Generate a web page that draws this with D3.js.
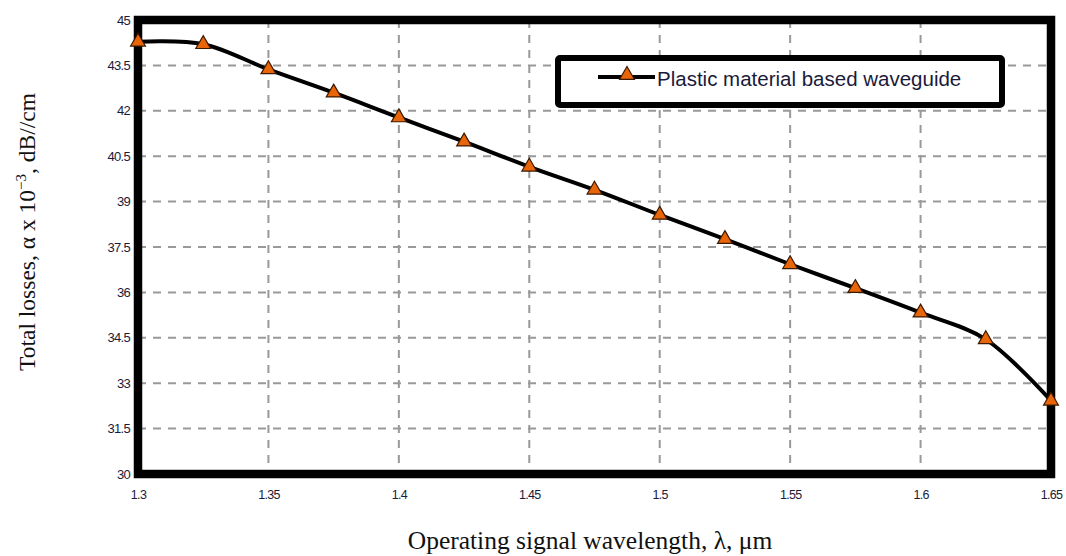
<!DOCTYPE html>
<html><head><meta charset="utf-8">
<script src="https://cdn.jsdelivr.net/npm/d3@7"></script>
<style>body{margin:0;background:#fff;}svg{display:block;}</style>
</head><body>
<svg id="chart" width="1066" height="556"></svg>
<script>
const wavelengths = [1.3,1.325,1.35,1.375,1.4,1.425,1.45,1.475,1.5,1.525,1.55,1.575,1.6,1.625,1.65];
const losses = [44.28,44.2,43.37,42.6,41.78,40.98,40.15,39.39,38.56,37.76,36.93,36.14,35.33,34.45,32.42];
const xTicks = [1.3,1.35,1.4,1.45,1.5,1.55,1.6,1.65];
const yTicks = [30,31.5,33,34.5,36,37.5,39,40.5,42,43.5,45];
const seriesName = "Plastic material based waveguide";

const svg = d3.select("#chart");
const L = 138, R = 1051, T = 20, B = 474;
const x = d3.scaleLinear().domain([1.3,1.65]).range([L,R]);
const y = d3.scaleLinear().domain([30,45]).range([B,T]);

// grid
svg.append("g").selectAll("line").data(xTicks.slice(1,-1)).join("line")
  .attr("x1",d=>x(d)).attr("x2",d=>x(d)).attr("y1",T).attr("y2",B)
  .attr("stroke","#999").attr("stroke-width",2).attr("stroke-dasharray","8,7");
svg.append("g").selectAll("line").data(yTicks.slice(1,-1)).join("line")
  .attr("x1",L).attr("x2",R).attr("y1",d=>y(d)).attr("y2",d=>y(d))
  .attr("stroke","#999").attr("stroke-width",2).attr("stroke-dasharray","8,7");

// axes (labels only)
const yAxis = svg.append("g").attr("transform",`translate(${L-4},0)`)
  .call(d3.axisLeft(y).tickValues(yTicks).tickSize(0).tickPadding(4).tickFormat(d=>String(d)));
yAxis.select(".domain").remove();
yAxis.selectAll("text").attr("font-family","Liberation Sans, Arial, sans-serif")
  .attr("font-size",13).attr("fill","#1a1a3a").attr("letter-spacing","-0.7");
const xAxis = svg.append("g").attr("transform",`translate(0,${B+12})`)
  .call(d3.axisBottom(x).tickValues(xTicks).tickSize(0).tickPadding(4).tickFormat(d=>String(d)));
xAxis.select(".domain").remove();
xAxis.selectAll("text").attr("font-family","Liberation Sans, Arial, sans-serif")
  .attr("font-size",12.5).attr("fill","#1a1a3a").attr("letter-spacing","-0.7");

// frame
svg.append("rect").attr("x",L).attr("y",T).attr("width",R-L).attr("height",B-T)
  .attr("fill","none").attr("stroke","#000").attr("stroke-width",8.5);

// line
const data = wavelengths.map((w,i)=>({w,v:losses[i]}));
svg.append("path").datum(data)
  .attr("d",d3.line().x(d=>x(d.w)).y(d=>y(d.v)).curve(d3.curveCatmullRom.alpha(0.5)))
  .attr("fill","none").attr("stroke","#000").attr("stroke-width",4);

const tri = d3.symbol().type(d3.symbolTriangle).size(95);
svg.append("g").selectAll("path").data(data).join("path")
  .attr("d",tri).attr("transform",d=>`translate(${x(d.w)},${y(d.v)})`)
  .attr("fill","#e8650a").attr("stroke","#3a1a00").attr("stroke-width",1.2);

// legend
const lg = svg.append("g");
lg.append("rect").attr("x",558).attr("y",58).attr("width",444).attr("height",47)
  .attr("fill","#fff").attr("stroke","#000").attr("stroke-width",6).attr("rx",2);
lg.append("line").attr("x1",598).attr("x2",655).attr("y1",77).attr("y2",77)
  .attr("stroke","#000").attr("stroke-width",4);
lg.append("path").attr("d",tri).attr("transform","translate(627,75)")
  .attr("fill","#e8650a").attr("stroke","#3a1a00").attr("stroke-width",1.2);
lg.append("text").attr("x",657).attr("y",86).text(seriesName)
  .attr("font-family","Liberation Sans, Arial, sans-serif").attr("font-size",20.5)
  .attr("fill","#1a1a3a");

// axis titles
svg.append("text").attr("x",590).attr("y",549).attr("text-anchor","middle")
  .attr("font-family","Liberation Serif, Times New Roman, serif").attr("font-size",25.5)
  .attr("fill","#111").text("Operating signal wavelength, λ, μm");
const yt = svg.append("text").attr("transform","translate(35,232) rotate(-90)")
  .attr("text-anchor","middle")
  .attr("font-family","Liberation Serif, Times New Roman, serif").attr("font-size",23.5)
  .attr("fill","#111");
yt.append("tspan").text("Total losses, α x 10");
yt.append("tspan").attr("dy",-9).attr("font-size",15).text("−3");
yt.append("tspan").attr("dy",9).text(", dB//cm");
</script>
</body></html>
